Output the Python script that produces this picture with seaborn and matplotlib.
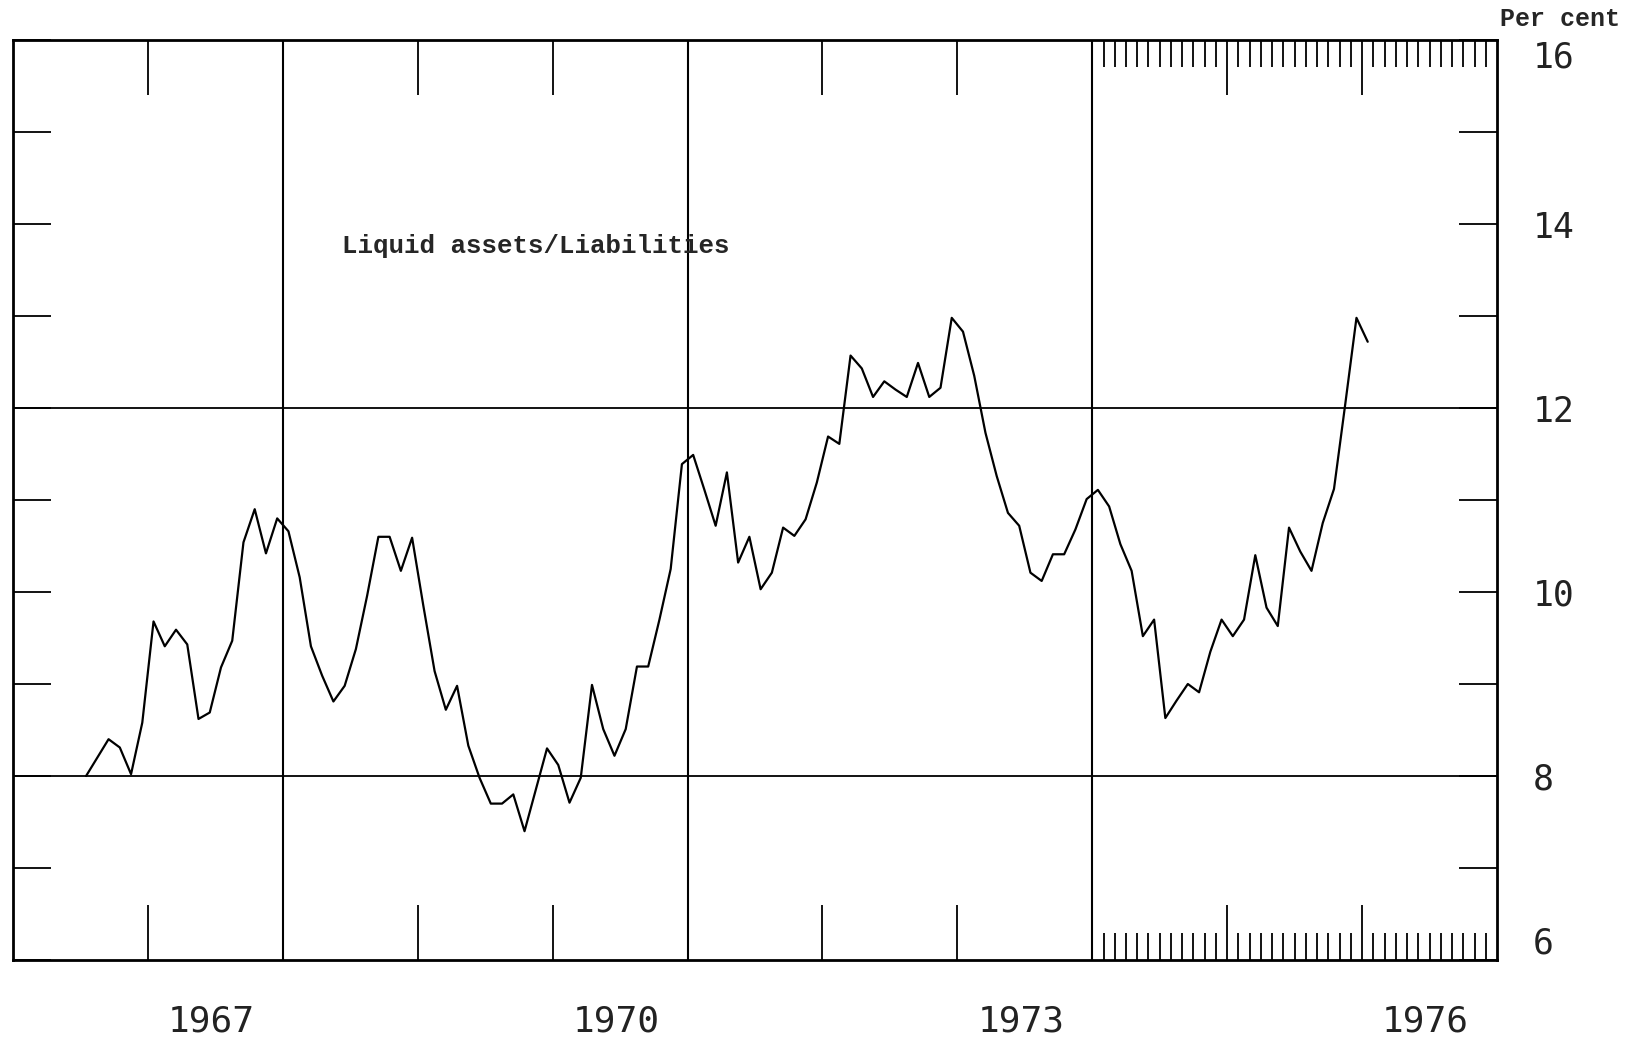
import numpy as np
import pandas as pd
import matplotlib
matplotlib.use("Agg")
import matplotlib.pyplot as plt
import matplotlib.transforms as mtransforms
from matplotlib.ticker import FixedLocator
import seaborn as sns

# ---- data: monthly ratio of liquid assets to liabilities (per cent) ----
start_month = "1966-07-01"
values = [
    8.00, 8.20, 8.40, 8.31, 8.02, 8.58, 9.68, 9.41, 9.59, 9.43, 8.62, 8.69,
    9.18, 9.47, 10.54, 10.90, 10.42, 10.80, 10.66, 10.16, 9.41, 9.09, 8.81, 8.98,
    9.38, 9.96, 10.60, 10.60, 10.23, 10.59, 9.85, 9.14, 8.72, 8.98, 8.33, 7.98,
    7.70, 7.70, 7.80, 7.40, 7.85, 8.30, 8.12, 7.71, 7.98, 8.99, 8.51, 8.22,
    8.51, 9.19, 9.19, 9.70, 10.25, 11.39, 11.49, 11.11, 10.72, 11.30, 10.32, 10.60,
    10.03, 10.21, 10.70, 10.61, 10.79, 11.19, 11.69, 11.61, 12.57, 12.43, 12.12, 12.29,
    12.20, 12.12, 12.49, 12.12, 12.22, 12.98, 12.83, 12.35, 11.73, 11.26, 10.86, 10.72,
    10.21, 10.12, 10.41, 10.41, 10.68, 11.01, 11.11, 10.93, 10.52, 10.23, 9.52, 9.70,
    8.63, 8.82, 9.00, 8.91, 9.35, 9.70, 9.52, 9.70, 10.40, 9.83, 9.63, 10.70,
    10.44, 10.23, 10.75, 11.12, 12.04, 12.98, 12.72,
]
year_labels = [1967, 1970, 1973, 1976]
y_labels = [6, 8, 10, 12, 14, 16]
series_label = "Liquid assets/Liabilities"
unit_label = "Per cent"

dates = pd.date_range(start_month, periods=len(values), freq="MS")
t = dates.year + (dates.month - 0.5) / 12.0
df = pd.DataFrame({"t": t, "v": values})

sns.set_style("white")
plt.rcParams["font.family"] = ["DejaVu Sans Mono", "DejaVu Sans"]

W, H = 1643, 1042
PX = 0.72  # points per pixel at 100 dpi
fig = plt.figure(figsize=(W / 100, H / 100), dpi=100)
L, R, T, B = 13, 1497, 40, 960
ax = fig.add_axes([L / W, 1 - B / H, (R - L) / W, (B - T) / H])

sns.lineplot(data=df, x="t", y="v", ax=ax, color="black", linewidth=1.6, zorder=3)
ax.set_xlim(1966, 1977)
ax.set_ylim(6, 16)
ax.set_xlabel("")
ax.set_ylabel("")

for sp in ax.spines.values():
    sp.set_linewidth(2.0)
    sp.set_color("black")

# reference grid lines
for yv in [8, 12]:
    ax.axhline(yv, color="black", linewidth=1.3, zorder=1)
for xv in [1968, 1971, 1974]:
    ax.axvline(xv, color="black", linewidth=1.5, zorder=1)

# x ticks: yearly (long), monthly from 1974 (short)
ax.xaxis.set_major_locator(FixedLocator(list(range(1967, 1977))))
months = [1974 + k / 12 for k in range(1, 36) if k % 12 != 0]
ax.xaxis.set_minor_locator(FixedLocator(months))
ax.tick_params(axis="x", which="major", direction="in", length=55 * PX, width=1.3,
               top=True, bottom=True, labelbottom=False, labeltop=False, color="black")
ax.tick_params(axis="x", which="minor", direction="in", length=27 * PX, width=1.3,
               top=True, bottom=True, color="black")

# y ticks
ax.yaxis.set_major_locator(FixedLocator(y_labels))
ax.yaxis.set_minor_locator(FixedLocator([7, 9, 11, 13, 15]))
ax.set_yticklabels([str(v) for v in y_labels])
ax.tick_params(axis="y", which="both", direction="in", length=38 * PX, width=1.3,
               left=True, right=True, labelleft=False, labelright=True,
               pad=36 * PX, labelsize=25, color="black", labelcolor="#222222")
for lbl in ax.get_yticklabels():
    if lbl.get_text() == "16":
        lbl.set_va("top")
    elif lbl.get_text() == "6":
        lbl.set_va("bottom")

# year labels centred within the year
trans = mtransforms.blended_transform_factory(ax.transData, ax.transAxes)
for yr in year_labels:
    ax.text(yr + 0.47, -0.067, str(yr), transform=trans, ha="center", va="center",
            fontsize=26, color="#222222", clip_on=False)

fig.text(1500 / W, 1 - 19 / H, unit_label, fontsize=18, fontweight="bold",
         family=["Liberation Mono", "DejaVu Sans Mono"], ha="left", va="center")
ax.text(1968.44, 13.76, series_label, fontsize=18.5, fontweight="bold",
        family=["Liberation Mono", "DejaVu Sans Mono"], ha="left", va="center", zorder=4)

fig.savefig("out.png", dpi=100)
